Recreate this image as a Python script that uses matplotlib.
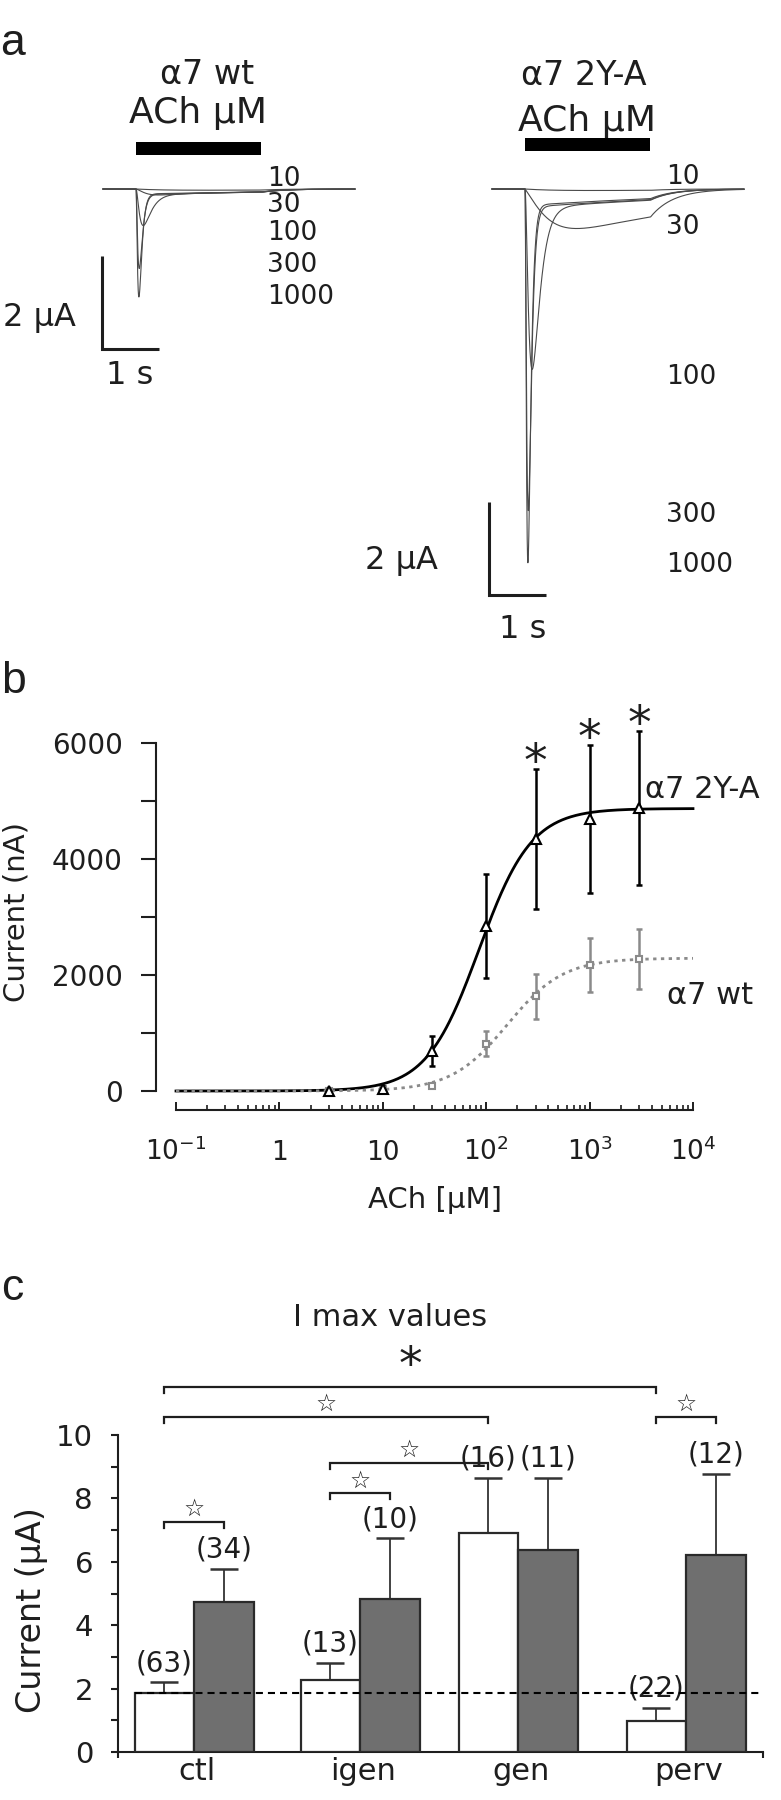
import numpy as np
import matplotlib
matplotlib.use('Agg')
import matplotlib.pyplot as plt
from matplotlib.patches import Rectangle
from matplotlib.ticker import FixedLocator, NullFormatter, LogLocator

plt.rcParams['font.family'] = ['DejaVu Sans']
plt.rcParams['mathtext.fontset'] = 'dejavusans'

W, H, DPI = 781, 1800, 100
INK = '#1e1e1e'
TRACE = '#4a4a4a'
GREY_MARK = '#8a8a8a'
BAR_GREY = '#6f6f6f'

# ---------------- panel a : example current traces ----------------
conc_labels = ['10', '30', '100', '300', '1000']
wt_fast_uA = [0.00, 0.07, 0.72, 1.66, 2.28]
wt_slow_uA = [0.04, 0.11, 0.12, 0.12, 0.11]
wt_rise_s = [0.30, 0.18, 0.09, 0.05, 0.045]
wt_decay_s = [0.50, 0.40, 0.13, 0.05, 0.045]
wt_slow_rise_s = [0.60, 0.40, 0.15, 0.10, 0.10]
mut_fast_uA = [0.00, 0.25, 3.65, 6.75, 7.90]
mut_slow_uA = [0.05, 0.95, 0.42, 0.40, 0.36]
mut_rise_s = [0.30, 0.50, 0.10, 0.05, 0.045]
mut_decay_s = [0.50, 0.80, 0.12, 0.05, 0.045]
mut_slow_rise_s = [0.60, 0.55, 0.15, 0.10, 0.10]
ach_on_s = 0.58
ach_duration_s = 2.2
sweep_s = 4.42
scale_uA = 2
scale_s = 1

# ---------------- panel b : dose-response ----------------
ach_uM = [3, 10, 30, 100, 300, 1000, 3000]
mut_nA = [0, 30, 690, 2840, 4345, 4690, 4875]
mut_err_nA = [30, 60, 255, 900, 1210, 1270, 1330]
wt_nA = [0, 10, 86, 816, 1635, 2175, 2273]
wt_err_nA = [10, 15, 40, 218, 388, 469, 520]
mut_fit = dict(imax=4870, ec50=85.0, nh=1.71)
wt_fit = dict(imax=2290, ec50=160.0, nh=1.6)
sig_conc_uM = [300, 1000, 3000]

# ---------------- panel c : Imax values ----------------
groups = ['ctl', 'igen', 'gen', 'perv']
imax_open = [1.85, 2.27, 6.92, 0.98]
sem_open = [0.35, 0.54, 1.73, 0.42]
imax_filled = [4.72, 4.83, 6.38, 6.20]
sem_filled = [1.05, 1.91, 2.27, 2.57]
n_open = [63, 13, 16, 22]
n_filled = [34, 10, 11, 12]
# (group, series) pairs compared; series 0 = open, 1 = filled
brackets = [((0, 0), (0, 1), 7.26, '\u2606'),
            ((1, 0), (1, 1), 8.17, '\u2606'),
            ((1, 0), (2, 0), 9.12, '\u2606'),
            ((0, 0), (2, 0), 10.57, '\u2606'),
            ((3, 0), (3, 1), 10.57, '\u2606'),
            ((0, 0), (3, 0), 11.51, '*')]

fig = plt.figure(figsize=(W / DPI, H / DPI), dpi=DPI)


def px_box(l, t, r, b):
    return [l / W, 1 - b / H, (r - l) / W, (b - t) / H]


def ftext(x, y, s, size, ha='center', off=0.36, **kw):
    """place text so that its visual centre sits at figure pixel (x, y)"""
    px = size * DPI / 72.0
    yb = y + off * px
    return fig.text(x / W, 1 - yb / H, s, fontsize=size, ha=ha, va='baseline',
                    color=kw.pop('color', INK), **kw)


# ================= panel a =================
PX_S, PX_UA, BASE_Y = 57.0, 46.5, 189.0
axa = fig.add_axes(px_box(0, 0, W, 660))
axa.set_xlim(0, W / PX_S)
axa.set_ylim(-(660 - BASE_Y) / PX_UA, BASE_Y / PX_UA)
axa.axis('off')


def trace(t, fast, slow, rise, decay, slow_rise, t_on, t_off, ts=4.0, tw=0.4):
    def core(tt):
        s = np.clip(tt - t_on, 0, None)
        sp = rise * np.log(1 + 2 * decay / rise)
        gmax = (1 - np.exp(-sp / rise)) ** 2 * np.exp(-sp / decay)
        g = (1 - np.exp(-s / rise)) ** 2 * np.exp(-s / decay) / gmax
        h = (1 - np.exp(-s / slow_rise)) * np.exp(-s / ts)
        return -(fast * g + slow * h)
    y = core(t)
    y_off = core(np.array([t_off]))[0]
    after = t > t_off
    y[after] = y_off * np.exp(-(t[after] - t_off) / tw)
    return y


def draw_traces(start, fast, slow, rise, decay, srise, bar_y):
    t = np.linspace(start, start + sweep_s, 3000)
    t_on = start + ach_on_s
    t_off = t_on + ach_duration_s
    for i in range(len(fast)):
        y = trace(t, fast[i], slow[i], rise[i], decay[i], srise[i], t_on, t_off)
        axa.plot(t, y, color=TRACE, lw=0.8)
    axa.add_patch(Rectangle((t_on, bar_y[0]), ach_duration_s, bar_y[1] - bar_y[0],
                            color='black', lw=0))


left_start = 103 / PX_S
right_start = 492 / PX_S
draw_traces(left_start, wt_fast_uA, wt_slow_uA, wt_rise_s, wt_decay_s,
            wt_slow_rise_s, ((BASE_Y - 155) / PX_UA, (BASE_Y - 142) / PX_UA))
draw_traces(right_start, mut_fast_uA, mut_slow_uA, mut_rise_s, mut_decay_s,
            mut_slow_rise_s, ((BASE_Y - 151) / PX_UA, (BASE_Y - 138) / PX_UA))

# scale bars
for cx, cy in [(102, 349), (489, 595)]:
    x0 = cx / PX_S
    y0 = (BASE_Y - cy) / PX_UA
    axa.plot([x0, x0, x0 + scale_s], [y0 + scale_uA, y0, y0], color=INK, lw=2.2,
             solid_joinstyle='miter', solid_capstyle='butt')

ftext(13, 43, 'a', 32, off=0.27, family='Liberation Sans')
ftext(207, 72, '\u03b17 wt', 24)
ftext(198, 110, 'ACh \u03bcM', 26)
ftext(584, 73, '\u03b17 2Y-A', 24)
ftext(587, 118, 'ACh \u03bcM', 26)
for lab, y in zip(conc_labels, [177, 203, 230, 263, 295]):
    ftext(267, y, lab, 19, ha='left')
for lab, y in zip(conc_labels, [175, 225, 374, 512, 562]):
    ftext(666, y, lab, 19, ha='left')
ftext(39, 315, '%d \u03bcA' % scale_uA, 23)
ftext(130, 373, '%d s' % scale_s, 23)
ftext(401, 557, '%d \u03bcA' % scale_uA, 23)
ftext(523, 627, '%d s' % scale_s, 23)

# ================= panel b =================
axb = fig.add_axes(px_box(176, 743, 693, 1091))
axb.set_xscale('log')
axb.set_xlim(0.1, 1e4)
axb.set_ylim(0, 6000)
for sp in ['top', 'right']:
    axb.spines[sp].set_visible(False)
axb.spines['left'].set_position(('outward', 20 * 72 / DPI))
axb.spines['bottom'].set_position(('outward', 19 * 72 / DPI))
axb.spines['left'].set_bounds(0, 6000)
for sp in ['left', 'bottom']:
    axb.spines[sp].set_linewidth(1.5)
    axb.spines[sp].set_color(INK)
axb.yaxis.set_major_locator(FixedLocator([0, 2000, 4000, 6000]))
axb.yaxis.set_minor_locator(FixedLocator([1000, 3000, 5000]))
axb.tick_params(axis='y', which='both', length=10.8, width=1.5, color=INK,
                labelsize=20, pad=13, labelcolor=INK)
axb.xaxis.set_major_locator(LogLocator(base=10, numticks=10))
axb.xaxis.set_minor_locator(LogLocator(base=10, subs=np.arange(2, 10), numticks=20))
axb.xaxis.set_major_formatter(NullFormatter())
axb.xaxis.set_minor_formatter(NullFormatter())
axb.tick_params(axis='x', which='major', direction='in', length=6, width=1.4, color=INK)
axb.tick_params(axis='x', which='minor', direction='in', length=3.6, width=1.2, color=INK)

xx = np.logspace(-1, 4, 500)
for fit, col, ls in [(mut_fit, 'black', '-'), (wt_fit, GREY_MARK, (0, (1.2, 1.6)))]:
    yy = fit['imax'] / (1 + (fit['ec50'] / xx) ** fit['nh'])
    axb.plot(xx, yy, color=col, lw=2.0, ls=ls, clip_on=False, zorder=2)
axb.errorbar(ach_uM, wt_nA, yerr=wt_err_nA, fmt='none', ecolor=GREY_MARK,
             elinewidth=1.8, capsize=2, capthick=1.8, clip_on=False, zorder=3)
axb.errorbar(ach_uM, mut_nA, yerr=mut_err_nA, fmt='none', ecolor='black',
             elinewidth=1.8, capsize=2, capthick=1.8, clip_on=False, zorder=3)
axb.plot(ach_uM, wt_nA, ls='none', marker='s', ms=5, mfc='white', mec=GREY_MARK,
         mew=1.5, clip_on=False, zorder=4)
axb.plot(ach_uM, mut_nA, ls='none', marker='^', ms=6.5, mfc='white', mec='black',
         mew=1.5, clip_on=False, zorder=5)
for c in sig_conc_uM:
    i = ach_uM.index(c)
    top = mut_nA[i] + mut_err_nA[i]
    axb.annotate('*', xy=(c, top), xytext=(0, 14 - 0.56 * 34), textcoords='offset points',
                 ha='center', va='baseline', fontsize=34, color=INK, annotation_clip=False)

# x tick labels (manual, baseline-aligned)
for v, lab in zip([0.1, 1, 10, 100, 1000, 10000],
                  [r'$10^{-1}$', '1', '10', r'$10^{2}$', r'$10^{3}$', r'$10^{4}$']):
    axb.annotate(lab, xy=(v, H - 1160), xycoords=('data', 'figure pixels'),
                 ha='center', va='baseline', fontsize=19, color=INK, annotation_clip=False)
ftext(435, 1197, 'ACh [\u03bcM]', 21)
fig.text(17 / W, 1 - 912 / H, 'Current (nA)', rotation=90, ha='center', va='center',
         fontsize=21, color=INK)
ftext(645, 787, '\u03b17 2Y-A', 22, ha='left')
ftext(667, 993, '\u03b17 wt', 22, ha='left')
ftext(13, 677, 'b', 32, off=0.37, family='Liberation Sans')

# ================= panel c =================
axc = fig.add_axes(px_box(118, 1435, 763, 1752))
axc.set_xlim(0, 645)
axc.set_ylim(0, 10)
for sp in ['top', 'right']:
    axc.spines[sp].set_visible(False)
for sp in ['left', 'bottom']:
    axc.spines[sp].set_linewidth(1.5)
    axc.spines[sp].set_color(INK)
bounds = np.array([76, 242, 400, 568])
bw = 59.5
x_open = bounds - bw / 2
x_fill = bounds + bw / 2
axc.bar(x_open, imax_open, width=bw, color='white', edgecolor='#2a2a2a', lw=1.6, zorder=3)
axc.bar(x_fill, imax_filled, width=bw, color=BAR_GREY, edgecolor='#2a2a2a', lw=1.6, zorder=3)
axc.errorbar(x_open, imax_open, yerr=[np.zeros(4), sem_open], fmt='none', ecolor='#333333',
             elinewidth=1.3, capsize=10, capthick=1.8, zorder=2, clip_on=False)
axc.errorbar(x_fill, imax_filled, yerr=[np.zeros(4), sem_filled], fmt='none', ecolor='#333333',
             elinewidth=1.3, capsize=10, capthick=1.8, zorder=2, clip_on=False)
axc.plot([x_open[0] - bw / 2, 645], [imax_open[0], imax_open[0]], color='black', lw=1.5,
         ls=(0, (3.4, 2.4)), zorder=4, clip_on=False)
for xs, ys, es, ns in [(x_open, imax_open, sem_open, n_open),
                       (x_fill, imax_filled, sem_filled, n_filled)]:
    for x, y, e, n in zip(xs, ys, es, ns):
        axc.annotate('(%d)' % n, xy=(x, y + e), xytext=(0, 8), textcoords='offset points',
                     ha='center', va='baseline', fontsize=20, color=INK, annotation_clip=False)

axc.yaxis.set_major_locator(FixedLocator([0, 2, 4, 6, 8, 10]))
axc.yaxis.set_minor_locator(FixedLocator([1, 3, 5, 7, 9]))
axc.tick_params(axis='y', which='both', length=5, width=1.5, color=INK, labelsize=21,
                pad=13, labelcolor=INK)
axc.xaxis.set_major_locator(FixedLocator([]))
axc.xaxis.set_minor_locator(FixedLocator([0, 645]))
axc.tick_params(axis='x', which='minor', length=4, width=1.5, color=INK)
for b, g in zip(bounds, groups):
    axc.annotate(g, xy=(b + 3, H - 1780), xycoords=('data', 'figure pixels'), ha='center',
                 va='baseline', fontsize=22, color=INK, annotation_clip=False)

centers = np.vstack([x_open, x_fill])
tick = 0.19
for (g1, s1), (g2, s2), yb, sym in brackets:
    xa, xb = centers[s1, g1], centers[s2, g2]
    axc.plot([xa, xa, xb, xb], [yb - tick, yb, yb, yb - tick], color=INK, lw=1.6,
             clip_on=False, solid_joinstyle='miter')
    if sym == '*':
        axc.annotate(sym, xy=((xa + xb) / 2, yb + 1.08), xytext=(0, -0.56 * 34),
                     textcoords='offset points', ha='center', va='baseline', fontsize=34,
                     color=INK, annotation_clip=False)
    else:
        axc.annotate(sym, xy=((xa + xb) / 2, yb + 0.43), xytext=(0, -0.34 * 17),
                     textcoords='offset points', ha='center', va='baseline', fontsize=17,
                     color=INK, annotation_clip=False)

ftext(390, 1315, 'I max values', 22)
fig.text(32 / W, 1 - 1610 / H, 'Current (\u03bcA)', rotation=90, ha='center', va='center',
         fontsize=24, color=INK)
ftext(12, 1288, 'c', 32, off=0.27, family='Liberation Sans')

fig.savefig('out.png', dpi=DPI, facecolor='white')
